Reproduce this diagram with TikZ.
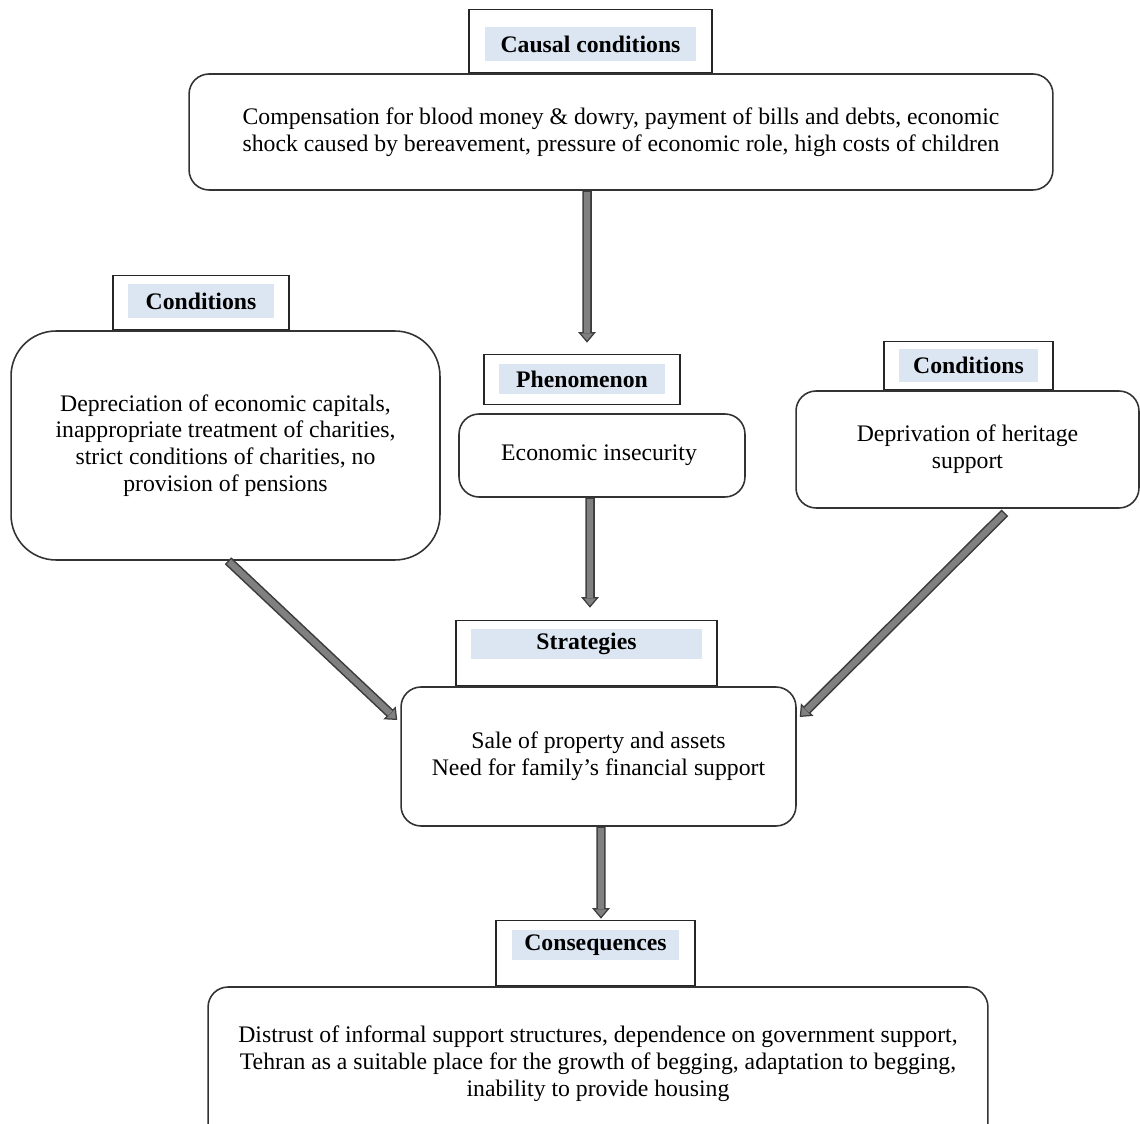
\documentclass[tikz,border=0pt]{standalone}
\usepackage{fontspec}
\setmainfont{Liberation Serif}
\usetikzlibrary{arrows.meta,positioning,calc}
\newcommand{\BoxFont}{\fontsize{13.5}{15.2}\selectfont}
\definecolor{TagFill}{RGB}{220,230,242}
\definecolor{ArrFill}{RGB}{128,128,128}
\definecolor{ArrDraw}{RGB}{60,60,60}
\tikzset{
  every node/.style={align=center},
  %% main blocks
  blk/.style={
    draw=black!80,
    line width=0.9pt,
    rounded corners=0.4cm,
    fill=white,
    inner sep=0pt,
    font=\BoxFont,
  },
  %% header frames and their shaded labels
  hdr/.style={
    draw=black!85,
    line width=0.9pt,
    fill=white,
    inner sep=0pt,
    anchor=south,
  },
  tag/.style={
    fill=TagFill,
    inner sep=0pt,
    font=\BoxFont\bfseries,
  },
  %% block arrows
  flow/.style={
    draw=ArrDraw,
    line width=5.4pt,
    -{Triangle[length=6pt,width=10pt,line width=0.7pt,fill=ArrFill]},
    postaction={draw=ArrFill, line width=3.6pt, -, shorten >=5.5pt, shorten <=0.8pt},
  },
}

\begin{document}
\begin{tikzpicture}[x=0.02cm, y=-0.02cm]

\useasboundingbox (0,0) rectangle (1140,1124);
\clip (0,0) rectangle (1140,1124);

%% ── Causal conditions ─────────────────────────────────────────────────────
\node[blk, minimum width=17.28cm, minimum height=2.32cm] (CausBox) at (621,132) {%
  Compensation for blood money \& dowry, payment of bills and debts, economic\\
  shock caused by bereavement, pressure of economic role, high costs of children
};
\node[hdr, minimum width=4.86cm, minimum height=1.26cm] (CausHdr)
  at ([xshift=-0.61cm]CausBox.north) {};
\node[tag, minimum width=4.24cm, minimum height=0.68cm, below=0.36cm of CausHdr.north]
  (CausTag) {Causal conditions};

%% ── Phenomenon ────────────────────────────────────────────────────────────
\node[blk, minimum width=5.72cm, minimum height=1.66cm] (PhenBox) at (602,455.5) {%
  Economic insecurity
};
\node[hdr, minimum width=3.92cm, minimum height=1.0cm] (PhenHdr)
  at ([xshift=-0.4cm, yshift=0.16cm]PhenBox.north) {};
\node[tag, minimum width=3.32cm, minimum height=0.6cm, below=0.2cm of PhenHdr.north]
  (PhenTag) {Phenomenon};

%% ── Conditions (left) ─────────────────────────────────────────────────────
\node[blk, rounded corners=0.9cm, minimum width=8.58cm, minimum height=4.58cm]
  (LeftBox) at (225.5,445.5) {%
  Depreciation of economic capitals,\\
  inappropriate treatment of charities,\\
  strict conditions of charities, no\\
  provision of pensions
};
\node[hdr, minimum width=3.52cm, minimum height=1.08cm] (LeftHdr)
  at ([xshift=-0.49cm]LeftBox.north) {};
\node[tag, minimum width=2.92cm, minimum height=0.68cm, below=0.18cm of LeftHdr.north]
  (LeftTag) {Conditions};

%% ── Conditions (right) ────────────────────────────────────────────────────
\node[blk, minimum width=6.86cm, minimum height=2.34cm] (RightBox) at (967.5,449.5) {%
  Deprivation of heritage\\
  support
};
\node[hdr, minimum width=3.38cm, minimum height=0.96cm] (RightHdr)
  at ([xshift=0.02cm]RightBox.north) {};
\node[tag, minimum width=2.8cm, minimum height=0.66cm, below=0.16cm of RightHdr.north]
  (RightTag) {Conditions};

%% ── Strategies ────────────────────────────────────────────────────────────
\node[blk, minimum width=7.9cm, minimum height=2.78cm] (StratBox) at (598.5,756.5) {%
  Sale of property and assets\\
  Need for family's financial support
};
\node[hdr, minimum width=5.22cm, minimum height=1.3cm] (StratHdr)
  at ([xshift=-0.24cm]StratBox.north) {};
\node[tag, minimum width=4.62cm, minimum height=0.6cm, below=0.18cm of StratHdr.north]
  (StratTag) {Strategies};

%% ── Consequences (runs off the bottom edge) ───────────────────────────────
\node[blk, minimum width=15.6cm, minimum height=3.5cm] (ConsBox) at (598,1074.5) {%
  Distrust of informal support structures, dependence on government support,\\
  Tehran as a suitable place for the growth of begging, adaptation to begging,\\
  inability to provide housing\\[0pt]
  \mbox{}
};
\node[hdr, minimum width=3.98cm, minimum height=1.3cm] (ConsHdr)
  at ([xshift=-0.05cm]ConsBox.north) {};
\node[tag, minimum width=3.36cm, minimum height=0.6cm, below=0.2cm of ConsHdr.north]
  (ConsTag) {Consequences};

%% ── Arrows ────────────────────────────────────────────────────────────────
\draw[flow] ([xshift=-0.68cm]CausBox.south) -- ([xshift=0.1cm, yshift=0.22cm]PhenHdr.north);
\draw[flow] ([xshift=-0.24cm]PhenBox.south) -- ([xshift=0.07cm, yshift=0.24cm]StratHdr.north);
\draw[flow] ([xshift=0.05cm]StratBox.south) -- ([xshift=0.11cm, yshift=0.02cm]ConsHdr.north);
\draw[flow] ([xshift=0.05cm]LeftBox.south)  -- ([xshift=-0.06cm, yshift=0.73cm]StratBox.west);
\draw[flow] ([xshift=0.75cm, yshift=-0.08cm]RightBox.south) -- ([xshift=0.06cm, yshift=0.79cm]StratBox.east);

\end{tikzpicture}
\end{document}
